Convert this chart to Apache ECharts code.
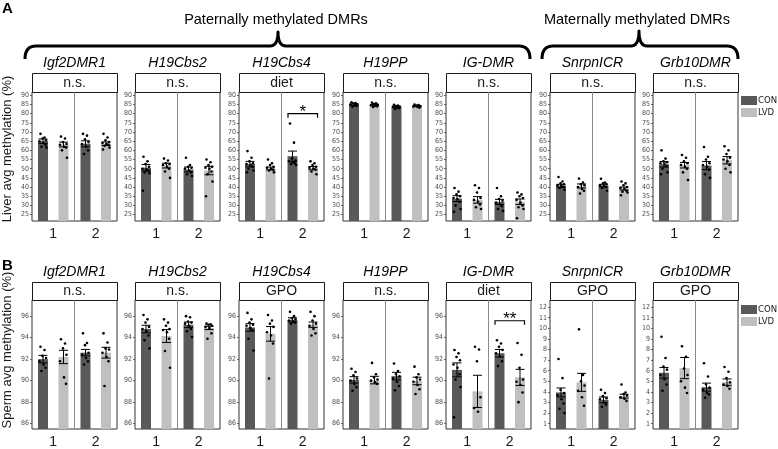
<!DOCTYPE html>
<html><head><meta charset="utf-8">
<script src="https://cdn.jsdelivr.net/npm/echarts@6.0.0/dist/echarts.min.js"></script>
<style>html,body{margin:0;padding:0;background:#fff;}#chart{width:778px;height:449px;}</style>
</head><body><div id="chart"></div>
<script>
// ---------------- data ----------------
const genes = ['Igf2DMR1','H19Cbs2','H19Cbs4','H19PP','IG-DMR','SnrpnICR','Grb10DMR'];
const groups = ['1','2'];
const seriesNames = ['CON','LVD'];
const liverTest = ['n.s.','n.s.','diet','n.s.','n.s.','n.s.','n.s.'];
const spermTest = ['n.s.','n.s.','GPO','n.s.','diet','GPO','GPO'];
const liverTicks = [25,30,35,40,45,50,55,60,65,70,75,80,85,90];
const spermTicksHigh = [86,88,90,92,94,96];
const spermTicksLow = [1,2,3,4,5,6,7,8,9,10,11,12];
const spermScale = ['high','high','high','high','high','low','low'];

// means / SEM per gene, [group1, group2]
const liverConMean = [[65.0,63.6],[50.5,49.6],[52.5,56.8],[85.0,83.8],[33.7,31.9],[40.7,40.8],[52.4,51.7]];
const liverConSem  = [[1.2,1.6],[1.8,1.3],[1.5,2.8],[0.4,0.3],[1.6,1.4],[0.8,0.7],[1.5,2.2]];
const liverLvdMean = [[63.2,63.6],[51.7,49.0],[50.1,50.3],[84.7,84.1],[33.0,32.0],[40.6,39.2],[51.9,54.6]];
const liverLvdSem  = [[1.3,1.0],[1.3,2.3],[0.8,0.9],[0.3,0.3],[1.8,1.5],[1.1,0.8],[1.5,2.0]];

const liverConPts = [
  [[69,67,66.5,65.5,65,64,63,62,61.5],[69,68,66,64.5,63.5,62,60,58]],
  [[56.5,54,52.5,51,50,49.5,49,48,47.5,38],[56,52,51,50.5,50,49,48,47,46]],
  [[59.6,56,54,53,52.5,52,51,50,49,48],[74.6,64.2,55.5,54.5,54,53.5,53,52.5,52]],
  [[86.2,85.8,85.5,85.1,84.8,84.5,84.2,83.8],[84.8,84.4,84.1,83.8,83.6,83.3,83,82.6]],
  [[39.5,37.5,36,35,34,33.5,32,30,28,26.5],[39.5,35,33.5,32.5,31.5,30.5,29.5,28,27]],
  [[45.5,43,42,41.5,41,40.5,40,39.5,38.5],[44.5,42.5,42,41.5,41,40.5,40,39.5,38]],
  [[60,55.5,54,53.5,53,52.5,51.5,50,48,47],[61.8,56.5,55,53,52,51,49.5,47,45]]
];
const liverLvdPts = [
  [[67.5,66.5,64.5,63.5,63,62,61.5,60,56],[69,67,65.5,64.5,64,63.5,63,62.5,61.5,60.5]],
  [[55.5,54.5,53,52.5,52,51,50,48.5,45],[55,53.5,52,51,50.5,50,48.5,47,43,35]],
  [[55,53,52,51,50.5,50,49.5,49,48],[54,53,52,51,50.5,50,49.5,48.5,47]],
  [[86,85.6,85.2,85,84.6,84.2,84,83.6],[85,84.7,84.4,84.1,83.9,83.6,83.3]],
  [[41,39.5,37,34,33,32,30.5,29,28],[37,36,35,34,33,31.5,30,29,28,23]],
  [[44.6,42.5,41.5,41,40,39,38,36.5],[43,42,41,40,39.5,39,38,37.5,37,35.5]],
  [[57.5,56,54,53,52,51,50,48,43.8],[62.2,60,58,56,55,54,52,50,48]]
];

const spermConMean = [[92.0,92.6],[94.8,95.2],[94.95,95.65],[90.07,90.42],[91.0,92.55],[3.95,3.25],[5.8,4.45]];
const spermConSem  = [[0.35,0.3],[0.35,0.25],[0.35,0.2],[0.3,0.35],[0.65,0.35],[0.42,0.27],[0.5,0.38]];
const spermLvdMean = [[92.2,92.6],[94.15,94.9],[94.35,95.2],[90.05,89.97],[89.0,90.3],[4.9,3.6],[6.25,4.92]];
const spermLvdSem  = [[0.62,0.5],[0.6,0.15],[0.68,0.25],[0.35,0.35],[1.5,0.75],[0.85,0.18],[1.0,0.3]];

const spermConPts = [
  [[93.15,92.85,92.3,92.1,91.8,91.5,91.2,90.9],[94.4,93.5,93.3,92.6,92.4,92.1,91.8,91.5]],
  [[96.1,95.7,95.4,95.0,94.8,94.6,94.2,93.75,93.0],[96.0,95.9,95.5,95.4,95.3,95.1,94.8,94.6,94.05]],
  [[96.3,95.7,95.4,95.2,95.1,94.9,94.7,93.9,92.8],[96.4,96.0,95.8,95.7,95.6,95.5,95.4,95.3]],
  [[91.1,90.8,90.5,90.2,90.0,89.7,89.4,89.05],[91.6,90.9,90.6,90.4,90.2,89.9,89.5,89.1]],
  [[92.85,92.55,92.2,91.9,91.5,91.2,90.6,90.1,89.4,86.6],[93.75,93.45,93.15,92.85,92.55,92.25,91.8,91.35]],
  [[7.1,5.3,4.2,3.9,3.7,3.3,2.9,2.4,2.0],[4.2,3.9,3.6,3.4,3.3,3.0,2.8,2.6]],
  [[9.2,7.2,6.4,6.1,5.6,5.2,4.7,4.1],[6.7,5.45,4.7,4.4,4.2,3.9,3.75,3.45]]
];
const spermLvdPts = [
  [[93.85,93.45,93.0,92.4,91.8,90.3,89.7],[94.4,93.55,93.0,92.9,92.6,92.2,91.8,89.5]],
  [[95.7,95.4,95.1,94.8,94.7,94.5,93.9,92.75,91.2],[95.3,95.25,95.2,95.1,95.0,94.9,94.4,93.9]],
  [[96.1,95.6,95.3,95.0,94.5,94.2,93.45,90.2],[96.4,96.0,95.6,95.3,95.1,94.8,94.4,94.2]],
  [[91.65,90.6,90.3,90.1,90.0,89.85,89.7],[91.3,90.6,90.3,90.1,89.9,89.6,89.2,88.75]],
  [[93.15,92.9,91.8,88.45,87.45,87.1],[93.5,92.4,91.2,90.1,89.9,89.6,88.9,88.0]],
  [[9.9,5.6,5.0,4.6,4.1,3.5,2.7],[4.7,3.95,3.8,3.65,3.5,3.35,3.15]],
  [[8.3,7.3,6.2,5.6,5.0,4.4,3.9],[6.35,5.9,5.3,4.9,4.7,4.55,4.3]]
];

// significance brackets: gene index, group index, bracket value, label
const liverSig = [{gene:2, group:1, y:80, label:'*'}];
const spermSig = [{gene:4, group:1, y:95.57, label:'**'}];

// ---------------- layout / style ----------------
const FONT = '"Liberation Sans", Arial, Helvetica, sans-serif';
const NARROW = '"Liberation Sans Narrow", "DejaVu Sans Condensed", "Liberation Sans", sans-serif';
const CON_COLOR = '#595959', LVD_COLOR = '#bfbfbf';
const FACET_X = [32, 135, 239, 343, 446, 550, 653];
const FACET_W = 85;
const BAR_W = 10, BAR_GAP = 10.5, CAP = 4.5;
const JITTER = [-2.5, 1.5, -0.5, 3, -3.5, 0.5, 2.5, -1.5, 3.5, -3];
const BRACES = [
  'M25,59 Q25,46 36,46 L270,46 Q278,46 278,32 Q278,46 286,46 L519,46 Q530,46 530,59',
  'M542,59 Q542,46 553,46 L631,46 Q639,46 639,31 Q639,46 647,46 L727,46 Q738,46 738,59'
];

const liverRange = [21.5, 91.8];
const spermHighRange = [85.5, 97.5];
const spermLowRange = [0.5, 12.67];

const panels = [
  {letter:'A', letterY:9, yTitle:'Liver avg methylation (%)', yTitleY:149,
   top:92, height:129, stripTop:73, stripH:19, titleY:63, legendY:96,
   tests: liverTest, conMean: liverConMean, conSem: liverConSem, lvdMean: liverLvdMean, lvdSem: liverLvdSem,
   conPts: liverConPts, lvdPts: liverLvdPts, sig: liverSig,
   axisFor: g => ({range: liverRange, ticks: liverTicks})},
  {letter:'B', letterY:266, yTitle:'Sperm avg methylation (%)', yTitleY:350,
   top:300, height:132, stripTop:282, stripH:18, titleY:272, legendY:305,
   tests: spermTest, conMean: spermConMean, conSem: spermConSem, lvdMean: spermLvdMean, lvdSem: spermLvdSem,
   conPts: spermConPts, lvdPts: spermLvdPts, sig: spermSig,
   axisFor: g => spermScale[g] === 'high' ? {range: spermHighRange, ticks: spermTicksHigh} : {range: spermLowRange, ticks: spermTicksLow}}
];

const chart = echarts.init(document.getElementById('chart'), null, {renderer:'canvas'});
const grid = [], xAxis = [], yAxis = [], series = [], graphic = [];

function dodge(s) { return (s === 0 ? -1 : 1) * (BAR_W + BAR_GAP) / 2; }

function renderErr(params, api) {
  const c = api.value(0), m = api.value(1), e = api.value(2), s = api.value(3);
  const top = api.coord([c, m + e]), bot = api.coord([c, m - e]);
  const x = top[0] + dodge(s);
  const st = {stroke:'#000', lineWidth:1};
  return {type:'group', children:[
    {type:'line', shape:{x1:x, y1:top[1], x2:x, y2:bot[1]}, style:st},
    {type:'line', shape:{x1:x-CAP, y1:top[1], x2:x+CAP, y2:top[1]}, style:st},
    {type:'line', shape:{x1:x-CAP, y1:bot[1], x2:x+CAP, y2:bot[1]}, style:st}
  ]};
}
function renderPt(params, api) {
  const c = api.value(0), v = api.value(1), s = api.value(2), i = api.value(3);
  const p = api.coord([c, v]);
  return {type:'circle', shape:{cx: p[0] + dodge(s) + JITTER[i % JITTER.length], cy: p[1], r:1.3}, style:{fill:'#000'}};
}
function makeBracketRenderer(sigs) {
  return function(params, api) {
    const sig = sigs[params.dataIndex];
    const c = api.value(0), y = api.value(1);
    const p = api.coord([c, y]);
    const xl = p[0] + dodge(0) - BAR_W/2 + 0.5, xr = p[0] + dodge(1) + BAR_W/2 - 0.5;
    return {type:'group', children:[
      {type:'polyline', shape:{points:[[xl, p[1]+4],[xl, p[1]],[xr, p[1]],[xr, p[1]+4]]}, style:{stroke:'#000', lineWidth:1.2, fill:null}},
      {type:'text', x:(xl+xr)/2, y:p[1]-1, style:{text:sig.label, fill:'#000', fontSize:17, fontFamily:FONT, align:'center', verticalAlign:'middle'}}
    ]};
  };
}

panels.forEach((P) => {
  genes.forEach((gene, g) => {
    const gi = grid.length;
    const ax = P.axisFor(g);
    grid.push({left:FACET_X[g], top:P.top, width:FACET_W, height:P.height, show:true,
      borderColor:'#333', borderWidth:1, backgroundColor:'#fff', containLabel:false});
    xAxis.push({gridIndex:gi, type:'category', data:groups,
      axisLine:{show:false}, axisTick:{show:false},
      axisLabel:{fontSize:14, color:'#1a1a1a', margin:6, fontFamily:FONT},
      splitLine:{show:true, showMinLine:false, showMaxLine:false, lineStyle:{color:'#8a8a8a', width:1}}});
    yAxis.push({gridIndex:gi, type:'value', min:ax.range[0], max:ax.range[1],
      axisLine:{show:false},
      axisTick:{show:true, length:2, customValues:ax.ticks, lineStyle:{color:'#444', width:0.8}},
      axisLabel:{customValues:ax.ticks, fontSize:7, color:'#4d4d4d', margin:3, fontFamily:NARROW},
      splitLine:{show:false}});
    const means = [P.conMean[g], P.lvdMean[g]];
    const sems = [P.conSem[g], P.lvdSem[g]];
    const pts = [P.conPts[g], P.lvdPts[g]];
    [0,1].forEach(s => {
      series.push({type:'bar', name:seriesNames[s], xAxisIndex:gi, yAxisIndex:gi, data:means[s],
        barWidth:BAR_W, barGap:(BAR_GAP/BAR_W*100)+'%', itemStyle:{color: s===0?CON_COLOR:LVD_COLOR}, z:2, silent:true});
    });
    const errData = [], ptData = [];
    [0,1].forEach(s => [0,1].forEach(c => {
      errData.push([c, means[s][c], sems[s][c], s]);
      pts[s][c].forEach((v, i) => ptData.push([c, v, s, i]));
    }));
    series.push({type:'custom', xAxisIndex:gi, yAxisIndex:gi, data:errData, encode:{x:0, y:1}, renderItem:renderErr, z:3, silent:true});
    series.push({type:'custom', xAxisIndex:gi, yAxisIndex:gi, data:ptData, encode:{x:0, y:1}, renderItem:renderPt, z:4, silent:true});
    const sigs = P.sig.filter(s => s.gene === g);
    if (sigs.length) {
      series.push({type:'custom', xAxisIndex:gi, yAxisIndex:gi, data:sigs.map(s => [s.group, s.y]), encode:{x:0, y:1},
        renderItem:makeBracketRenderer(sigs), z:5, silent:true});
    }
    graphic.push({type:'rect', shape:{x:FACET_X[g]+0.5, y:P.stripTop+0.5, width:FACET_W, height:P.stripH},
      style:{fill:'#fff', stroke:'#1a1a1a', lineWidth:1}, silent:true});
    graphic.push({type:'text', x:FACET_X[g]+FACET_W/2, y:P.stripTop+P.stripH/2+0.5,
      style:{text:P.tests[g], fontSize:14, fontFamily:FONT, fill:'#1a1a1a', align:'center', verticalAlign:'middle'}, silent:true});
    graphic.push({type:'text', x:FACET_X[g]+FACET_W/2, y:P.titleY,
      style:{text:gene, fontSize:14, fontStyle:'italic', fontFamily:FONT, fill:'#000', align:'center', verticalAlign:'middle'}, silent:true});
  });
  graphic.push({type:'text', x:2, y:P.letterY, style:{text:P.letter, fontSize:15, fontWeight:'bold', fontFamily:FONT, fill:'#000', align:'left', verticalAlign:'middle'}, silent:true});
  graphic.push({type:'text', x:7, y:P.yTitleY, rotation:Math.PI/2,
    style:{text:P.yTitle, fontSize:13, fontFamily:FONT, fill:'#1a1a1a', align:'center', verticalAlign:'middle'}, silent:true});
  seriesNames.forEach((n, s) => {
    const y = P.legendY + s*12;
    graphic.push({type:'rect', shape:{x:741, y:y, width:16, height:9}, style:{fill: s===0?CON_COLOR:LVD_COLOR}, silent:true});
    graphic.push({type:'text', x:758, y:y+4.5, style:{text:n, fontSize:9.5, fontFamily:NARROW, fill:'#1a1a1a', align:'left', verticalAlign:'middle'}, silent:true});
  });
});

graphic.push({type:'text', x:276, y:20, style:{text:'Paternally methylated DMRs', fontSize:14.5, fontFamily:FONT, fill:'#000', align:'center', verticalAlign:'middle'}, silent:true});
graphic.push({type:'text', x:637, y:20, style:{text:'Maternally methylated DMRs', fontSize:14.5, fontFamily:FONT, fill:'#000', align:'center', verticalAlign:'middle'}, silent:true});

// braces drawn by a custom series without coordinate system
series.push({type:'custom', coordinateSystem:'none', data:BRACES.map((b, i) => [i]), silent:true, z:6,
  renderItem: (params) => ({type:'path', shape:{pathData:BRACES[params.dataIndex]},
    style:{stroke:'#000', lineWidth:3, fill:null, lineJoin:'round'}})});

chart.setOption({animation:false, backgroundColor:'#fff', textStyle:{fontFamily:FONT},
  tooltip:{show:false}, grid, xAxis, yAxis, series, graphic});
</script>
</body></html>
